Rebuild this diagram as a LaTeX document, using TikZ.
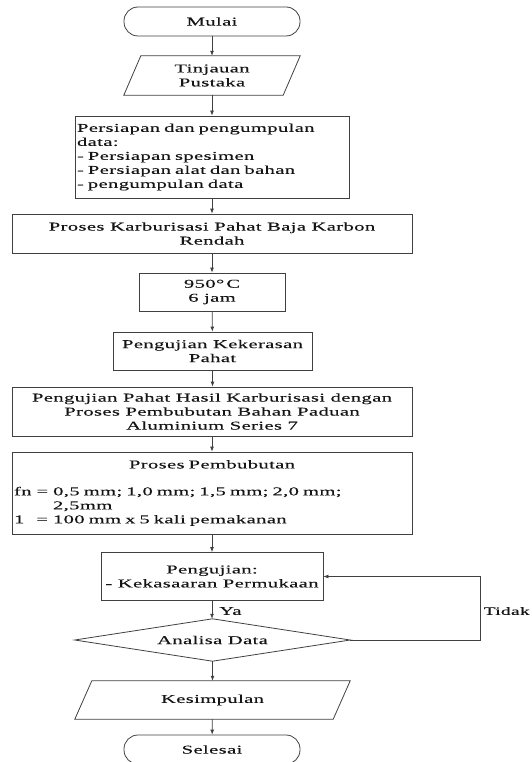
\documentclass[tikz,border=0pt]{standalone}
\usepackage{fontspec}
\setmainfont{Liberation Serif}[FakeStretch=1.72,LetterSpace=3,FakeBold=0.15]
\usetikzlibrary{arrows.meta}
\definecolor{ln}{HTML}{404040}
\definecolor{tx}{HTML}{151515}
\begin{document}
\begin{tikzpicture}[x=1pt,y=-1pt,
  every node/.style={text=tx,font=\fontsize{12}{14}\selectfont},
  box/.style={draw=ln,line width=0.8pt,rectangle,inner sep=2pt,align=center},
  ghost/.style={rectangle,inner sep=2pt,align=center},
  outl/.style={draw=ln,line width=0.8pt},
  arr/.style={draw=ln,line width=0.8pt,-{Latex[length=5pt,width=4pt]}}]
\useasboundingbox (0,0) rectangle (532,762);
\node[box,rounded corners=14pt,minimum width=176pt,minimum height=29pt] (mulai) at (212,21.5) {Mulai};
\node[ghost,minimum width=176pt,minimum height=39pt] (tin) at (212,75.5) {Tinjauan\\Pustaka};
\draw[outl] ([xshift=17pt]tin.north west) -- (tin.north east) -- ([xshift=-17pt]tin.south east) -- (tin.south west) -- cycle;
\node[box,minimum width=274pt,minimum height=82pt,text width=270pt,align=left] (per) at (212,157) {Persiapan dan pengumpulan\\data:\\- Persiapan spesimen\\- Persiapan alat dan bahan\\- pengumpulan data};
\node[box,minimum width=400pt,minimum height=39pt] (kar) at (212,233.5) {Proses Karburisasi Pahat Baja Karbon\\Rendah};
\node[box,minimum width=146pt,minimum height=38pt] (suhu) at (212,292) {950°\,C\\6 jam};
\node[box,minimum width=199pt,minimum height=38pt] (kek) at (212.5,351) {Pengujian Kekerasan\\Pahat};
\node[box,minimum width=400pt,minimum height=49pt] (pah) at (212,411.5) {Pengujian Pahat Hasil Karburisasi dengan\\Proses Pembubutan Bahan Paduan\\Aluminium Series 7};
\node[box,minimum width=400pt,minimum height=82pt,text width=396pt,align=left] (bub) at (212,493) {\parbox{396pt}{\centering Proses Pembubutan\par}\\[14pt]fn\hspace*{5pt}=\hspace*{5pt}0,5 mm; 1,0 mm; 1,5 mm; 2,0 mm;\\\hspace*{39pt}2,5mm\\1\hspace*{12pt}=\hspace*{5pt}100 mm x 5 kali pemakanan};
\node[box,minimum width=222pt,minimum height=48pt] (uji) at (212,576.5) {Pengujian:\\- Kekasaaran Permukaan};
\node[ghost,minimum width=275pt,minimum height=42pt] (ana) at (212.5,640) {Analisa Data};
\draw[outl] (ana.west) -- (ana.north) -- (ana.east) -- (ana.south) -- cycle;
\node[ghost,minimum width=275pt,minimum height=38pt] (kes) at (212.5,700) {Kesimpulan};
\draw[outl] ([xshift=17pt]kes.north west) -- (kes.north east) -- ([xshift=-17pt]kes.south east) -- (kes.south west) -- cycle;
\node[box,rounded corners=14pt,minimum width=176pt,minimum height=29pt] (sel) at (212,749.5) {Selesai};
\coordinate (fb) at (480,576.5);
\draw[arr] (mulai) -- (tin);
\draw[arr] (tin) -- (per);
\draw[arr] (per) -- (kar);
\draw[arr] (kar) -- (suhu);
\draw[arr] (suhu) -- (kek);
\draw[arr] (kek.south) -- (kek.south |- pah.north);
\draw[arr] (pah) -- (bub);
\draw[arr] (bub) -- (uji);
\draw[arr] (uji.south) -- (uji.south |- ana.north);
\draw[arr] (ana.south) -- (ana.south |- kes.north);
\draw[arr] (kes) -- (sel);
\draw[arr] (ana.east) -| (fb) -- (uji.east);
\node[anchor=west,inner sep=0pt] (ya) at (219,611) {Ya};
\node[anchor=west,inner sep=0pt,font=\fontsize{11.3}{14}\selectfont] (tidak) at (483.5,611) {Tidak};
\end{tikzpicture}
\end{document}
